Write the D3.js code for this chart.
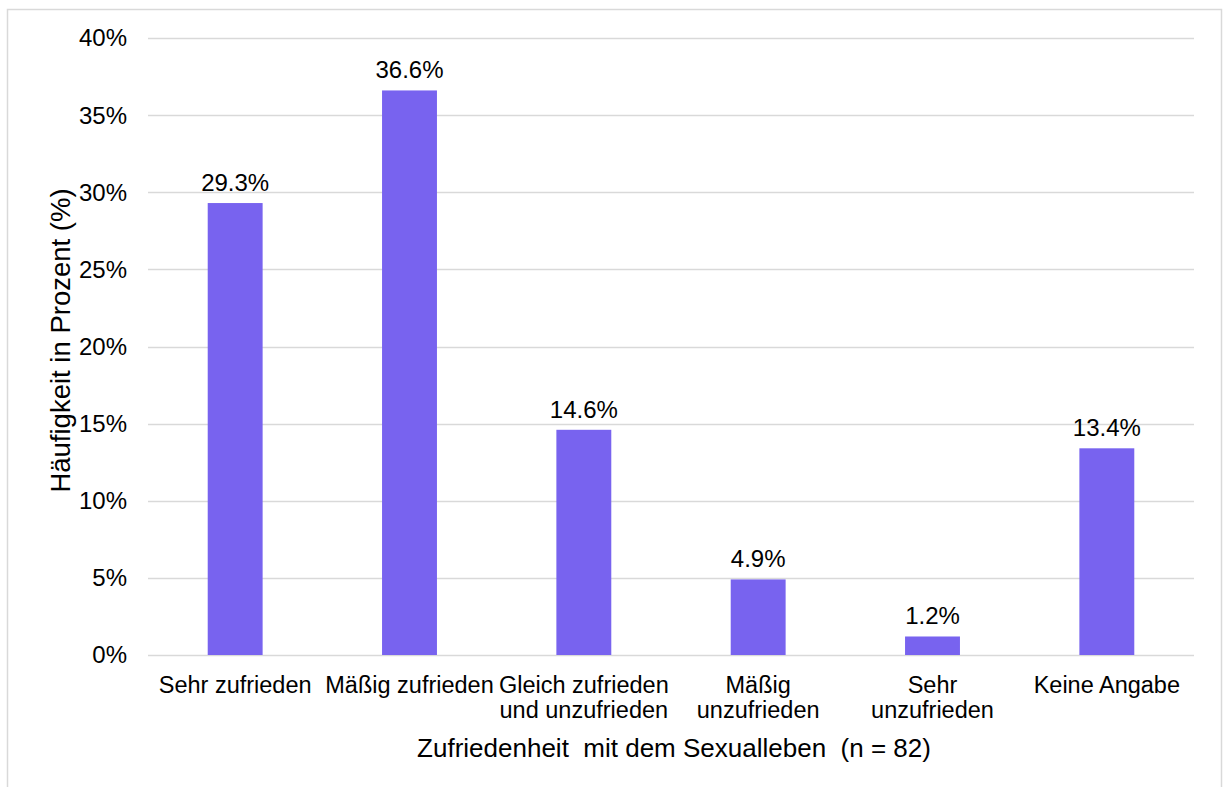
<!DOCTYPE html>
<html><head><meta charset="utf-8">
<script src="https://cdn.jsdelivr.net/npm/d3@7"></script>
<style>
html,body{margin:0;padding:0;background:#fff;}
text{font-family:"Liberation Sans",Arial,sans-serif;fill:#000;}
</style></head>
<body><svg id="chart" width="1223" height="787"></svg>
<script>
const categories = [["Sehr zufrieden"],["Mäßig zufrieden"],["Gleich zufrieden","und unzufrieden"],["Mäßig","unzufrieden"],["Sehr","unzufrieden"],["Keine Angabe"]];
const values = [29.3, 36.6, 14.6, 4.9, 1.2, 13.4];
const yTicks = [0,5,10,15,20,25,30,35,40];
const xTitle = "Zufriedenheit  mit dem Sexualleben  (n = 82)";
const yTitle = "Häufigkeit in Prozent (%)";

const svg = d3.select("#chart");
svg.append("rect").attr("x",7.5).attr("y",9.5).attr("width",1214).attr("height",800)
  .attr("fill","none").attr("stroke","#d9d9d9").attr("stroke-width",1.5);

const m = {l:148, r:1194, t:38, b:655};
const keys = categories.map((c,i)=>i);
const x = d3.scaleBand().domain(keys).range([m.l,m.r]).paddingInner(0.685).paddingOuter(0.3425);
const y = d3.scaleLinear().domain([0,40]).range([m.b,m.t]);

svg.append("g").selectAll("line").data(yTicks).join("line")
  .attr("x1",m.l).attr("x2",m.r)
  .attr("y1",d=>Math.round(y(d))+0.5).attr("y2",d=>Math.round(y(d))+0.5)
  .attr("stroke","#d9d9d9").attr("stroke-width",1.5);

svg.append("g").selectAll("text").data(yTicks).join("text")
  .attr("x",127).attr("y",d=>y(d)).attr("dy","0.35em")
  .attr("text-anchor","end").style("font-size","24px")
  .text(d=>d+"%");

svg.append("g").selectAll("rect").data(values).join("rect")
  .attr("x",(d,i)=>x(i)).attr("width",x.bandwidth())
  .attr("y",d=>y(d)).attr("height",d=>y(0)-y(d))
  .attr("fill","#7863EF");

svg.append("g").selectAll("text").data(values).join("text")
  .attr("x",(d,i)=>x(i)+x.bandwidth()/2).attr("y",d=>y(d)-12)
  .attr("text-anchor","middle").style("font-size","24px")
  .text(d=>d.toFixed(1)+"%");

const xl = svg.append("g").selectAll("text").data(categories).join("text")
  .attr("x",(d,i)=>x(i)+x.bandwidth()/2).attr("y",693)
  .attr("text-anchor","middle").style("font-size","23.5px");
xl.each(function(d,i){
  const t=d3.select(this);
  d.forEach((line,j)=>{
    t.append("tspan").attr("x",x(i)+x.bandwidth()/2).attr("dy",j===0?0:25).text(line);
  });
});

svg.append("text").attr("x",(m.l+m.r)/2+3).attr("y",757).attr("text-anchor","middle")
  .style("font-size","26px").style("white-space","pre").attr("xml:space","preserve").text(xTitle);

svg.append("text").attr("transform",`translate(70,${(m.t+m.b)/2-6}) rotate(-90)`)
  .attr("text-anchor","middle").style("font-size","27.5px").text(yTitle);
</script></body></html>
